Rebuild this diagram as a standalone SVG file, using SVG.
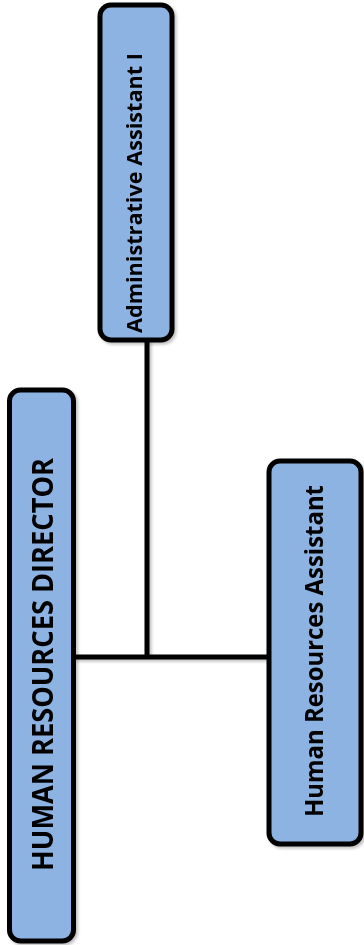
<svg xmlns="http://www.w3.org/2000/svg" width="364" height="945" viewBox="0 0 364 945">
  <style>
    .box { fill: #8DB3E2; stroke: #000; stroke-width: 5; }
    .conn { stroke: #000; stroke-width: 5; fill: none; stroke-linecap: butt; }
    .lbl { font-family: "Open Sans", "Liberation Sans", sans-serif; font-weight: bold; fill: #000; text-anchor: middle; }
  </style>
  <defs>
    <filter id="sh" x="-20%" y="-20%" width="140%" height="140%">
      <feDropShadow dx="2" dy="2" stdDeviation="1.5" flood-color="#000" flood-opacity="0.25"/>
    </filter>
  </defs>
  <rect width="364" height="945" fill="#fff"/>
  <g id="connectors" filter="url(#sh)">
    <line class="conn" x1="147" y1="340" x2="147" y2="657"/>
    <line class="conn" x1="74" y1="657" x2="268" y2="657"/>
  </g>
  <g id="admin-assistant" filter="url(#sh)">
    <rect class="box" x="100" y="5" width="72" height="335" rx="11"/>
    <text class="lbl" font-size="21" textLength="280" lengthAdjust="spacingAndGlyphs" transform="translate(142,193) rotate(-90)">Administrative Assistant I</text>
  </g>
  <g id="hr-director" filter="url(#sh)">
    <rect class="box" x="9.5" y="390" width="64" height="551" rx="11"/>
    <text class="lbl" font-size="28" textLength="413" lengthAdjust="spacingAndGlyphs" transform="translate(53,664.5) rotate(-90)">HUMAN RESOURCES DIRECTOR</text>
  </g>
  <g id="hr-assistant" filter="url(#sh)">
    <rect class="box" x="269" y="461" width="92" height="383" rx="11"/>
    <text class="lbl" font-size="25" textLength="332" lengthAdjust="spacingAndGlyphs" transform="translate(323,651) rotate(-90)">Human Resources Assistant</text>
  </g>
</svg>
